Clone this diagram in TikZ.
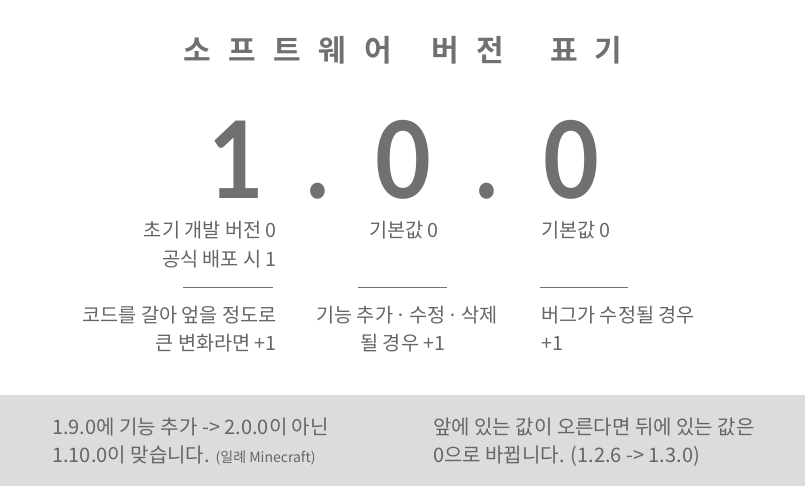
\documentclass[tikz,border=0pt]{standalone}
\usepackage{fontspec}
\setmainfont{Noto Sans CJK KR}
\newfontfamily\krbold{Noto Sans CJK KR Bold}
\newfontfamily\digitfont{Lato}[FakeStretch=0.9]
\definecolor{titlegray}{HTML}{707070}
\definecolor{textgray}{HTML}{666666}
\definecolor{rulegray}{HTML}{707070}
\definecolor{bandgray}{HTML}{DCDCDC}
\newcommand{\mdot}{\hspace{2.5pt}·\hspace{2.5pt}}
\tikzset{
  titlechar/.style={inner sep=0pt, text=titlegray, font=\krbold\fontsize{30}{30}\selectfont, anchor=center},
  bigdigit/.style={inner sep=0pt, text=titlegray, text depth=0pt, font=\digitfont\bfseries\fontsize{107}{107}\selectfont, anchor=base},
  desc/.style={inner sep=0pt, text=textgray, font=\fontsize{19.7}{28}\selectfont, anchor=base},
  note/.style={inner sep=0pt, text=textgray, font=\fontsize{20}{28}\selectfont, anchor=base west},
  sep/.style={draw=rulegray, line width=0.8pt}
}
\begin{document}
\begin{tikzpicture}[x=1pt,y=-1pt]
\useasboundingbox (0,0) rectangle (805,486);
\fill[bandgray] (0,395) rectangle (805,486);
% title
\node[titlechar] (t1) at (197,50) {소};
\node[titlechar] (t2) at (242,50) {프};
\node[titlechar] (t3) at (287,50) {트};
\node[titlechar] (t4) at (332,50) {웨};
\node[titlechar] (t5) at (378,50) {어};
\node[titlechar] (t6) at (445,50) {버};
\node[titlechar] (t7) at (490,50) {전};
\node[titlechar] (t8) at (564,50) {표};
\node[titlechar] (t9) at (608,50) {기};
% big version number
\node[bigdigit] (major) at (236,199) {1};
\node[bigdigit] (dot1) at (318,199) {.};
\node[bigdigit] (minor) at (403,199) {0};
\node[bigdigit] (dot2) at (487,199) {.};
\node[bigdigit] (patch) at (571,199) {0};
% column 1
\node[desc, anchor=base east] (m1) at (277,238) {초기 개발 버전 0};
\node[desc, anchor=base east] (m2) at (277,266) {공식 배포 시 1};
\coordinate (r1a) at (183,287);
\coordinate (r1b) at (273,287);
\draw[sep] (r1a) -- (r1b);
\node[desc, anchor=base east] (m3) at (277,322) {코드를 갈아 엎을 정도로};
\node[desc, anchor=base east] (m4) at (277,350) {큰 변화라면 +1};
% column 2
\node[desc] (n1) at (404,238) {기본값 0};
\coordinate (r2a) at (358,287);
\coordinate (r2b) at (447,287);
\draw[sep] (r2a) -- (r2b);
\node[desc] (n2) at (407,322) {기능 추가\mdot 수정\mdot 삭제};
\node[desc] (n3) at (403,350) {될 경우 +1};
% column 3
\node[desc, anchor=base west] (p1) at (541,238) {기본값 0};
\coordinate (r3a) at (540,287);
\coordinate (r3b) at (628,287);
\draw[sep] (r3a) -- (r3b);
\node[desc, anchor=base west] (p2) at (541,322) {버그가 수정될 경우};
\node[desc, anchor=base west] (p3) at (541,350) {+1};
% bottom notes
\node[note] (b1) at (52,434) {1.9.0에 기능 추가 -> 2.0.0이 아닌};
\node[note] (b2) at (52,462) {1.10.0이 맞습니다. {\fontsize{14}{14}\selectfont (일례 Minecraft)}};
\node[note] (b3) at (433,434) {앞에 있는 값이 오른다면 뒤에 있는 값은};
\node[note] (b4) at (433,462) {0으로 바뀝니다. (1.2.6 -> 1.3.0)};
\end{tikzpicture}
\end{document}
